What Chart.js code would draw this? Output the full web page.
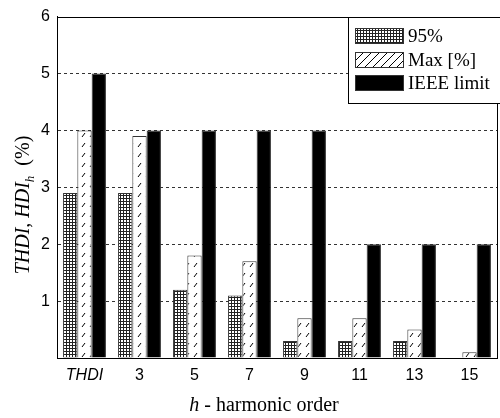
<!DOCTYPE html>
<html>
<head>
<meta charset="utf-8">
<script src="https://cdn.jsdelivr.net/npm/chart.js@4.4.0/dist/chart.umd.min.js"></script>
<style>
  body { margin: 0; background: #fff; }
  #wrap { width: 500px; height: 418px; }
</style>
</head>
<body>
<div id="wrap"><canvas id="chart" width="500" height="418"></canvas></div>
<script>
// harmonic orders on the x axis
const categories = ['THDI', '3', '5', '7', '9', '11', '13', '15'];
// THDI / HDI_h values in %
const p95 = [2.9, 2.9, 1.2, 1.1, 0.3, 0.3, 0.3, 0];
const maxVals = [4.0, 3.9, 1.8, 1.7, 0.7, 0.7, 0.5, 0.1];
const ieeeLimit = [5, 4, 4, 4, 4, 2, 2, 2];
const seriesNames = ['95%', 'Max [%]', 'IEEE limit'];
const yTicks = [0, 1, 2, 3, 4, 5, 6];

function gridPattern() {
    const c = document.createElement('canvas');
    c.width = 3; c.height = 3;
    const g = c.getContext('2d');
    g.fillStyle = '#fff';
    g.fillRect(0, 0, 3, 3);
    g.fillStyle = '#222';
    g.fillRect(0, 0, 3, 1);
    g.fillRect(0, 0, 1, 3);
    return g.createPattern(c, 'repeat');
}

function hatchPattern(dashed) {
    const c = document.createElement('canvas');
    c.width = 8; c.height = dashed ? 10 : 8;
    const g = c.getContext('2d');
    g.fillStyle = '#fff';
    g.fillRect(0, 0, c.width, c.height);
    g.strokeStyle = '#000';
    g.lineWidth = 1;
    g.beginPath();
    if (dashed) {
        g.moveTo(2, 7); g.lineTo(5, 3);
    } else {
        g.moveTo(0, 8); g.lineTo(8, 0);
        g.moveTo(-1, 1); g.lineTo(1, -1);
        g.moveTo(7, 9); g.lineTo(9, 7);
    }
    g.stroke();
    return g.createPattern(c, 'repeat');
}

const fill95 = gridPattern();
const fillMax = hatchPattern(true);
const fillMaxLegend = hatchPattern(false);

// box, axis titles with mixed styles, and the legend inside the plot
const extras = {
    id: 'extras',
    afterDraw(chart) {
        const ctx = chart.ctx;
        const a = chart.chartArea;
        ctx.save();
        ctx.strokeStyle = '#000';
        ctx.lineWidth = 1;
        ctx.strokeRect(Math.round(a.left) + 0.5, Math.round(a.top) + 0.5,
                       Math.round(a.right - a.left), Math.round(a.bottom - a.top));

        // x title: "h - harmonic order"
        ctx.fillStyle = '#000';
        ctx.textBaseline = 'alphabetic';
        const it = 'italic 20px "Liberation Serif", "Times New Roman", serif';
        const rg = '20px "Liberation Serif", "Times New Roman", serif';
        ctx.font = it; const w1 = ctx.measureText('h').width;
        ctx.font = rg; const w2 = ctx.measureText(' - harmonic order').width;
        let x = 264 - (w1 + w2) / 2;
        ctx.font = it; ctx.fillText('h', x, 411);
        ctx.font = rg; ctx.fillText(' - harmonic order', x + w1, 411);

        // y title: "THDI, HDI_h (%)"
        const sub = 'italic 13px "Liberation Serif", "Times New Roman", serif';
        ctx.font = it; const s1 = ctx.measureText('THDI, HDI').width;
        ctx.font = sub; const s2 = ctx.measureText('h').width;
        ctx.font = rg; const s3 = ctx.measureText('  (%)').width;
        ctx.translate(29, 205);
        ctx.rotate(-Math.PI / 2);
        x = -(s1 + s2 + s3) / 2;
        ctx.font = it; ctx.fillText('THDI, HDI', x, 0);
        ctx.font = sub; ctx.fillText('h', x + s1, 5);
        ctx.font = rg; ctx.fillText('  (%)', x + s1 + s2, 0);
        ctx.restore();

        // legend
        ctx.save();
        const lx = 348, ly = Math.round(a.top), lw = 160, lh = 86;
        ctx.fillStyle = '#fff';
        ctx.fillRect(lx, ly, lw, lh);
        ctx.strokeStyle = '#000';
        ctx.lineWidth = 1;
        ctx.strokeRect(lx + 0.5, ly + 0.5, lw, lh);
        const fills = [fill95, fillMaxLegend, '#000'];
        ctx.font = '19px "Liberation Serif", "Times New Roman", serif';
        ctx.textBaseline = 'middle';
        seriesNames.forEach((name, i) => {
            const y = Math.round(ly + 11 + i * 23.5);
            ctx.fillStyle = fills[i];
            ctx.fillRect(355, y, 49, 16);
            ctx.strokeStyle = '#333';
            ctx.strokeRect(355.5, y + 0.5, 48, 15);
            ctx.fillStyle = '#000';
            ctx.fillText(name, 408, y + 9);
        });
        ctx.restore();
    }
};

new Chart(document.getElementById('chart').getContext('2d'), {
    type: 'bar',
    data: {
        labels: categories,
        datasets: [
            { label: seriesNames[0], data: p95, backgroundColor: fill95, borderColor: '#333', borderWidth: 1 },
            { label: seriesNames[1], data: maxVals, backgroundColor: fillMax, borderColor: '#333', borderWidth: 1 },
            { label: seriesNames[2], data: ieeeLimit, backgroundColor: '#000', borderColor: '#333', borderWidth: 1 }
        ]
    },
    plugins: [extras],
    options: {
        responsive: false,
        animation: false,
        layout: { padding: { left: 0, top: 16, right: 3, bottom: 0 } },
        datasets: { bar: { categoryPercentage: 0.78, barPercentage: 1 } },
        plugins: { legend: { display: false }, tooltip: { enabled: false } },
        scales: {
            x: {
                grid: { display: false, drawTicks: false },
                border: { color: '#000' },
                ticks: {
                    padding: 8,
                    color: '#000',
                    font: c => ({ family: '"Liberation Sans", Arial, sans-serif', size: 16,
                                  style: c.index === 0 ? 'italic' : 'normal' })
                },
                afterFit: s => { s.height = 60; }
            },
            y: {
                min: yTicks[0],
                max: yTicks[yTicks.length - 1],
                afterBuildTicks: s => { s.ticks = yTicks.map(v => ({ value: v })); },
                grid: {
                    drawTicks: false,
                    color: c => (c.tick.value > 0 && c.tick.value < 6) ? '#333' : 'rgba(0,0,0,0)',
                    lineWidth: 1
                },
                border: { color: '#000', dash: [3, 3] },
                ticks: {
                    padding: 7,
                    color: '#000',
                    font: { family: '"Liberation Sans", Arial, sans-serif', size: 16 },
                    callback: v => v === 0 ? '' : v
                },
                afterFit: s => { s.width = 57; }
            }
        }
    }
});
</script>
</body>
</html>
